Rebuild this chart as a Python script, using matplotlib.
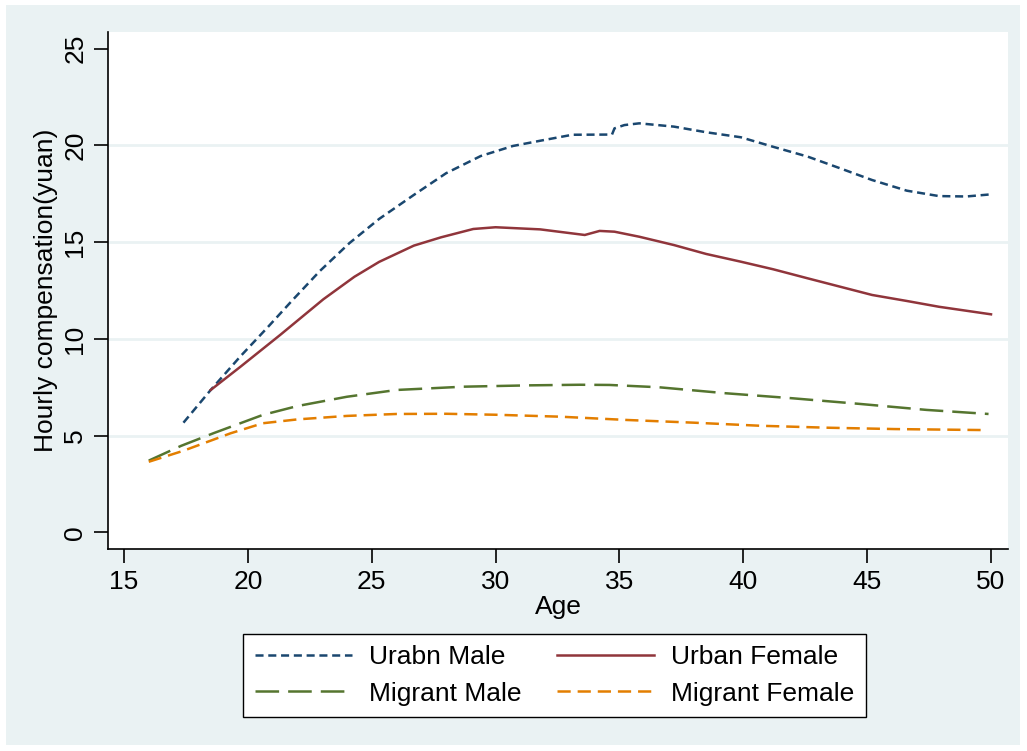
import matplotlib
matplotlib.use("Agg")
import matplotlib.pyplot as plt
from matplotlib.patches import Rectangle

# values (age, hourly compensation in yuan)
urban_male_age = [17.4, 18.5, 19.7, 20.8, 21.8, 22.9, 24.1, 25.3, 26.7, 28.0, 29.4,
                  30.7, 31.8, 33.1, 34.7, 34.8, 35.2, 35.8, 37.2, 38.5, 39.9, 41.2,
                  42.6, 43.9, 45.2, 46.6, 47.9, 49.0, 50.0]
urban_male_pay = [5.67, 7.36, 9.1, 10.6, 12.0, 13.5, 14.95, 16.2, 17.44, 18.56, 19.45,
                  19.97, 20.24, 20.55, 20.56, 20.88, 21.05, 21.14, 20.97, 20.68, 20.42, 19.93,
                  19.42, 18.82, 18.21, 17.66, 17.38, 17.36, 17.47]

urban_female_age = [18.5, 19.7, 21.3, 23.05, 24.3, 25.3, 26.7, 27.8, 29.1, 30.0, 31.8,
                    33.6, 34.2, 34.8, 35.8, 37.2, 38.5, 39.9, 41.2, 42.6, 43.9,
                    45.2, 46.6, 47.9, 50.0]
urban_female_pay = [7.36, 8.56, 10.2, 12.05, 13.21, 13.98, 14.82, 15.25, 15.68, 15.77, 15.66,
                    15.37, 15.58, 15.54, 15.28, 14.85, 14.39, 13.99, 13.6, 13.13, 12.7,
                    12.27, 11.96, 11.66, 11.27]

migrant_male_age = [16.0, 17.3, 18.6, 20.6, 22.0, 24.0, 26.0, 28.7, 31.4, 33.4,
                    34.6, 36.6, 39.3, 42.0, 44.7, 47.4, 49.9]
migrant_male_pay = [3.71, 4.47, 5.12, 6.07, 6.53, 7.01, 7.36, 7.53, 7.60, 7.63,
                    7.62, 7.50, 7.19, 6.93, 6.64, 6.33, 6.12]

migrant_female_age = [16.0, 17.4, 19.3, 20.6, 22.0, 24.0, 26.0, 28.0, 30.0, 32.6,
                      35.3, 38.0, 40.7, 43.4, 46.1, 49.6]
migrant_female_pay = [3.65, 4.22, 5.12, 5.64, 5.84, 6.02, 6.12, 6.13, 6.08, 5.98,
                      5.81, 5.67, 5.51, 5.41, 5.34, 5.29]

x_ticks = [15, 20, 25, 30, 35, 40, 45, 50]
y_ticks = [0, 5, 10, 15, 20, 25]

plt.rcParams["font.family"] = ["Liberation Sans", "DejaVu Sans"]
plt.rcParams["lines.scale_dashes"] = False

bg = "#EAF2F3"
fs = 19
fig = plt.figure(figsize=(10.27, 7.51), dpi=100, facecolor="white")
fig.patches.append(Rectangle((6 / 1027, 6 / 751), 1014 / 1027, 740 / 751,
                             transform=fig.transFigure, facecolor=bg,
                             edgecolor="none", zorder=-10))

ax = fig.add_axes([108 / 1027, 202 / 751, 900 / 1027, 517 / 751])
ax.set_facecolor("white")

um, = ax.plot(urban_male_age, urban_male_pay, color="#1A476F", lw=1.8,
              dashes=(5.8, 3.4), label="Urabn Male")
uf, = ax.plot(urban_female_age, urban_female_pay, color="#90353B", lw=1.8,
              label="Urban Female")
mm, = ax.plot(migrant_male_age, migrant_male_pay, color="#55752F", lw=1.8,
              dashes=(17, 6.5), label="Migrant Male")
mf, = ax.plot(migrant_female_age, migrant_female_pay, color="#E37E00", lw=1.8,
              dashes=(9.5, 5), label="Migrant Female")

ax.set_xlim(14.354, 50.686)
ax.set_ylim(-0.858, 25.86)
ax.set_xticks(x_ticks)
ax.set_yticks(y_ticks)
ax.set_yticklabels([str(v) for v in y_ticks], rotation=90, va="center")
for v in y_ticks[1:-1]:
    ax.axhline(v, color=bg, lw=2, zorder=0)

for side in ["top", "right"]:
    ax.spines[side].set_visible(False)
for side in ["left", "bottom"]:
    ax.spines[side].set_linewidth(1.2)
ax.tick_params(axis="both", direction="out", length=10, width=1.2,
               labelsize=fs, pad=5)

ax.set_xlabel("Age", fontsize=fs, labelpad=1)
ax.set_ylabel("Hourly compensation(yuan)", fontsize=fs, labelpad=4)

# row-wise order like the original: matplotlib fills legend columns first
leg = fig.legend([um, mm, uf, mf],
                 [um.get_label(), mm.get_label(), uf.get_label(), mf.get_label()],
                 loc="center", bbox_to_anchor=(0.540, 0.1005), ncol=2,
                 fontsize=fs, frameon=True, fancybox=False, edgecolor="black",
                 facecolor="white", framealpha=1, handlelength=3.67,
                 handletextpad=0.64, columnspacing=1.35, labelspacing=0.46,
                 borderpad=0.45)
leg.get_frame().set_linewidth(1.0)

plt.savefig("out.png", dpi=100, facecolor=fig.get_facecolor())
plt.close()
